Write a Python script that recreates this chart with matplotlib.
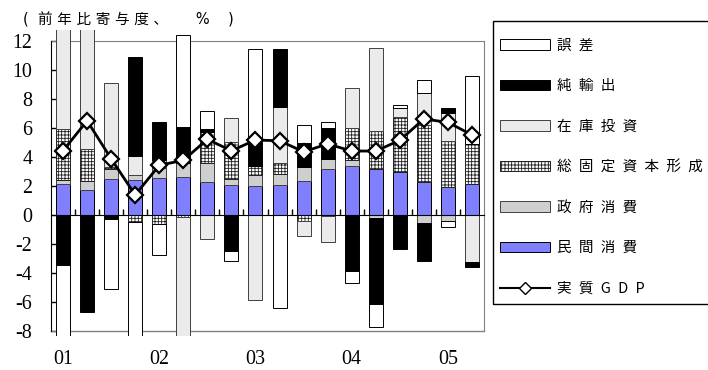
import numpy as np
import matplotlib
matplotlib.use('Agg')
import matplotlib.pyplot as plt
from matplotlib.patches import Patch, Rectangle
from matplotlib.lines import Line2D
from matplotlib.transforms import blended_transform_factory

plt.rcParams['hatch.linewidth'] = 0.6

# 2001Q1 - 2005Q2, contributions to real GDP growth (y/y, %)
years = ['01', '02', '03', '04', '05']
private = [2.10, 1.70, 2.44, 2.37, 2.55, 2.58, 2.23, 2.03, 1.98, 2.03, 2.32, 3.13, 3.38, 3.15, 2.97, 2.28, 1.93, 2.10]
government = [0.29, 0.62, 0.69, 0.40, 0.69, 1.00, 1.31, 0.41, 0.76, 0.78, 0.99, 0.69, 0.39, -0.25, -0.08, -0.60, -0.41, 0.00]
fixed = [3.50, 2.21, 0.18, -0.50, -0.66, -0.18, 2.18, 2.59, 0.60, 0.73, -0.40, -0.12, 2.23, 2.62, 3.79, 3.91, 3.15, 2.78]
inventory = [7.00, 8.40, 5.75, 1.27, 0.53, -8.60, -1.70, 1.64, -5.90, 3.91, -1.07, -1.74, 2.72, 5.71, 0.58, 2.18, 1.91, -3.28]
net_exports = [-3.50, -6.71, -0.33, 6.83, 2.60, 2.47, 0.17, -2.50, 1.65, 3.98, 1.61, 2.14, -3.86, -5.91, -2.28, -2.59, 0.35, -0.35]
discrepancy = [-4.90, 0.00, -4.77, -7.90, -2.12, 6.33, 1.28, -0.69, 6.43, -6.41, 1.24, 0.41, -0.83, -1.61, 0.23, 0.92, -0.42, 4.69]
gdp = [4.41, 6.48, 3.86, 1.36, 3.41, 3.75, 5.20, 4.41, 5.15, 5.10, 4.34, 4.88, 4.39, 4.39, 5.13, 6.60, 6.37, 5.50]

labels = ['民間消費', '政府消費', '総固定資本形成', '在庫投資', '純輸出', '誤差']
series = [private, government, fixed, inventory, net_exports, discrepancy]
styles = [
    dict(facecolor='#8080ff', edgecolor='black'),
    dict(facecolor='#cfcfcf', edgecolor='#404040'),
    dict(facecolor='white', edgecolor='#202020', hatch='+++++'),
    dict(facecolor='#ebebeb', edgecolor='#404040'),
    dict(facecolor='black', edgecolor='black'),
    dict(facecolor='white', edgecolor='black'),
]

cjk = ['Noto Sans CJK JP', 'DejaVu Sans']
serif = 'Liberation Serif'

def spaced(s):
    return '\u2002'.join(s)

fig = plt.figure(figsize=(7.08, 3.70), dpi=100)
ax = fig.add_axes([51 / 708, 1 - 330.7 / 370, 433 / 708, 290 / 370])

x = np.arange(len(gdp))
ax.set_xlim(-0.5, len(gdp) - 0.5)
ax.set_ylim(-8, 12)

# bars may run a little past the frame, as in the printed chart
clip = Rectangle((-0.5, -8.38), len(gdp), 21.33, transform=ax.transData)

pos = np.zeros(len(gdp))
neg = np.zeros(len(gdp))
for vals, style in zip(series, styles):
    v = np.array(vals)
    bottom = np.where(v >= 0, pos, neg)
    bars = ax.bar(x, v, 0.58, bottom=bottom, linewidth=0.7, zorder=3, **style)
    for b in bars:
        b.set_clip_path(clip)
    pos += np.where(v >= 0, v, 0)
    neg += np.where(v < 0, v, 0)

ax.plot(x, gdp, color='black', lw=2, marker='D', ms=8, mfc='white', mec='black',
        mew=1.6, zorder=6, clip_on=False)

# axes: black left axis and zero line, grey frame elsewhere
ax.spines['bottom'].set_position(('data', 0))
ax.spines['bottom'].set_zorder(5)
ax.spines['left'].set_color('black')
for side in ['top', 'right']:
    ax.spines[side].set_color('#808080')
    ax.spines[side].set_zorder(2)
ax.plot([0, 1], [0, 0], transform=ax.transAxes, color='#808080', lw=1, zorder=2, clip_on=False)

ax.set_yticks(np.arange(-8, 13, 2))
ax.set_yticklabels([str(v) for v in range(-8, 13, 2)], fontfamily=serif, fontsize=14.4)
ax.tick_params(axis='y', direction='in', length=4, width=1, pad=13.5)
ax.set_xticks(np.arange(0.5, len(gdp) - 1, 1))
ax.set_xticklabels([])
ax.tick_params(axis='x', direction='in', length=4, width=1)

trans = blended_transform_factory(ax.transData, ax.transAxes)
for i, yr in enumerate(years):
    ax.text(i * 4, -0.1, yr, transform=trans, ha='center', va='center',
            fontfamily=serif, fontsize=14.4)

fig.text(23 / 708, 1 - 20 / 370, '(  前 年 比 寄 与 度 、      %    )', ha='left', va='center',
         family=['DejaVu Sans', 'Noto Sans CJK JP'], fontsize=10.5,
         bbox=dict(facecolor='white', edgecolor='none', pad=1.5))

# legend box drawn on its own so the entries can sit lower inside it
fig.patches.append(Rectangle((493 / 708, 1 - 304 / 370), 230 / 708, 283.3 / 370,
                             transform=fig.transFigure, fill=False, edgecolor='black', lw=1))

handles = [Patch(linewidth=0.7, **styles[i]) for i in range(5, -1, -1)]
handles.append(Line2D([], [], color='black', lw=1.5, marker='D', ms=6, mfc='white', mec='black'))
names = [spaced(labels[i]) for i in range(5, -1, -1)] + [spaced('実質GDP')]
fig.legend(handles, names, loc='upper left', bbox_to_anchor=(500 / 708, 1 - 38.5 / 370),
           borderaxespad=0, borderpad=0, prop=dict(family=cjk, size=10.5), handlelength=3.45,
           handleheight=0.7, handletextpad=0.45, labelspacing=1.82, frameon=False)

fig.savefig('out.png', dpi=100)
